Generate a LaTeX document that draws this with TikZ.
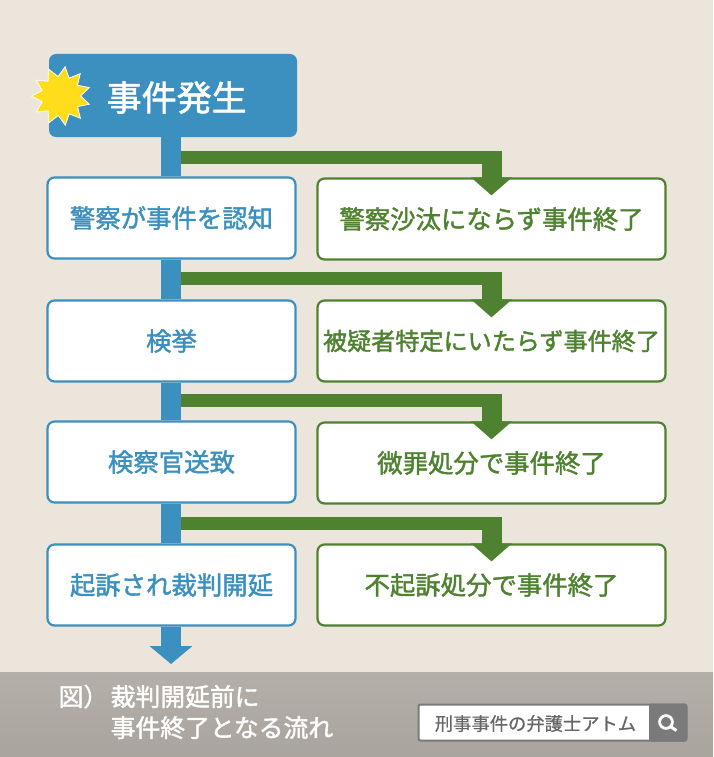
\documentclass[tikz,border=0pt]{standalone}
\usepackage{fontspec}
\usepackage{xcolor}
\usetikzlibrary{arrows.meta,shapes.geometric,calc}
\setmainfont{Noto Sans CJK JP}
\newfontfamily\jpfont{Noto Sans CJK JP}[FakeBold=1.6]
\newfontfamily\jplight{Noto Sans CJK JP}[FakeBold=0.6]
\definecolor{paper}{HTML}{EBE5DC}
\definecolor{trunkblue}{HTML}{3B90BF}
\definecolor{leafgreen}{HTML}{4F8230}
\definecolor{bandtop}{HTML}{B4AFA8}
\definecolor{bandlow}{HTML}{A9A49D}
\definecolor{btngray}{HTML}{7A7A7A}
\definecolor{burstyellow}{HTML}{FFDD1A}
\tikzset{
    flowbox/.style={draw,line width=2.2pt,fill=white,rounded corners=7pt,
        minimum width=248pt,minimum height=81pt,inner sep=0pt,
        font=\jpfont\fontsize{25.4}{25.4}\selectfont},
    stagebox/.style={flowbox,draw=trunkblue,text=trunkblue},
    endbox/.style={flowbox,draw=leafgreen,text=leafgreen,minimum width=348pt},
    trunkline/.style={line width=20pt,draw=trunkblue},
    barline/.style={line width=13pt,draw=leafgreen},
    branchline/.style={line width=20pt,draw=leafgreen,
        -{Triangle[width=40pt,length=18pt]}},
    captext/.style={text=white,anchor=base west,inner sep=0pt,
        font=\jpfont\fontsize{24.8}{24.8}\selectfont}
}
\begin{document}
\begin{tikzpicture}[x=1pt,y=-1pt]
    \useasboundingbox (0,0) rectangle (713,757);
    \fill[paper] (0,0) rectangle (713,757);
    \shade[top color=bandtop,bottom color=bandlow] (0,672) rectangle (713,756);

    % free end of the main line
    \coordinate (mainend) at (171,664);

    \node[fill=trunkblue,rounded corners=7pt,minimum width=248pt,minimum height=83pt,
        inner sep=0pt] (start) at (173,95.5) {};
    \node[stagebox] (recognize) at (171.5,218) {警察が事件を認知};
    \node[stagebox] (arrest) at (171.5,341) {検挙};
    \node[stagebox] (referral) at (171.5,462) {検察官送致};
    \node[stagebox] (trial) at (171.5,585) {起訴され裁判開延};
    \node[endbox] (endA) at (491.5,219) {警察沙汰にならず事件終了};
    \node[endbox] (endB) at (491.5,341) {\fontsize{24.1}{24.1}\selectfont 被疑者特定にいたらず事件終了};
    \node[endbox] (endC) at (491.5,463) {微罪処分で事件終了};
    \node[endbox] (endD) at (491.5,585) {不起訴処分で事件終了};

    \node[text=white,font=\jpfont\fontsize{35}{35}\selectfont,anchor=west,inner sep=0pt]
        (startlabel) at (106.5,97.5) {事件発生};
    \node[star,star points=11,star point ratio=1.5,minimum size=59pt,inner sep=0pt,
        fill=burstyellow,draw=white,line width=.8pt,rotate=-8] (burst) at (61,96) {};

    % main line, pieces between the boxes
    \draw[trunkline] (start.south -| mainend) -- (recognize.north -| mainend);
    \draw[trunkline] (recognize.south -| mainend) -- (arrest.north -| mainend);
    \draw[trunkline] (arrest.south -| mainend) -- (referral.north -| mainend);
    \draw[trunkline] (referral.south -| mainend) -- (trial.north -| mainend);
    \draw[trunkline,-{Triangle[width=42pt,length=18pt]}] (trial.south -| mainend) -- (mainend);

    % branches to the right hand boxes
    \draw[barline] (181,157.5) -- (501.5,157.5);
    \draw[branchline] (491.5,151) -- ($(endA.north)+(0,18)$);
    \draw[barline] (181,278.5) -- (501.5,278.5);
    \draw[branchline] (491.5,272) -- ($(endB.north)+(0,18)$);
    \draw[barline] (181,400.5) -- (501.5,400.5);
    \draw[branchline] (491.5,394) -- ($(endC.north)+(0,18)$);
    \draw[barline] (181,523.5) -- (501.5,523.5);
    \draw[branchline] (491.5,517) -- ($(endD.north)+(0,18)$);

    \node[captext] (capA) at (58.5,706) {図）};
    \node[captext] (capB) at (110.5,706) {裁判開延前に};
    \node[captext] (capC) at (110.5,737) {事件終了となる流れ};

    \node[draw=btngray,line width=2pt,fill=white,minimum width=268pt,minimum height=36pt,inner sep=0pt,
        rounded corners=2pt] (searchbox) at (552.5,722.5) {};
    \node[fill=btngray,minimum width=38pt,minimum height=38pt,inner sep=0pt,rounded corners=2pt] (searchbtn)
        at (668,722.5) {};
    \node[text=black!60,font=\jplight\fontsize{18.3}{18.3}\selectfont,inner sep=0pt]
        (searchtext) at (535.5,723.5) {刑事事件の弁護士アトム};
    \draw[white,line width=2.8pt] ($(searchbtn.center)+(-2,-.5)$) circle[radius=6.4pt];
    \draw[white,line width=3pt] ($(searchbtn.center)+(3,4.5)$) -- ($(searchbtn.center)+(8.5,8)$);
\end{tikzpicture}
\end{document}
